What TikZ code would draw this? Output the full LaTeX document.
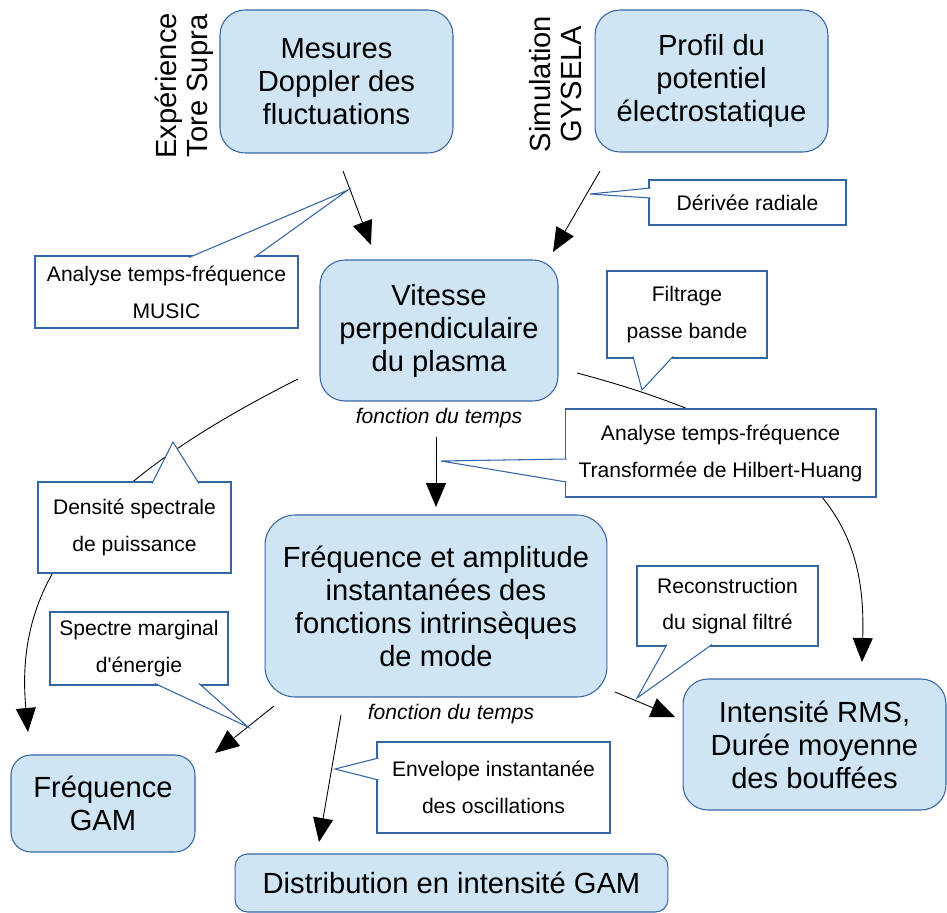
\documentclass[tikz,border=0pt]{standalone}
\usepackage{fontspec}
\setmainfont{Liberation Sans}
\usetikzlibrary{arrows.meta}
\definecolor{boxblue}{HTML}{CFE5F4}
\definecolor{lineblue}{HTML}{3465A4}

\begin{document}
\begin{tikzpicture}[x=0.02cm,y=-0.02cm,
  box/.style={draw=lineblue,fill=boxblue,line width=0.6pt,rounded corners=0.5cm,align=center,inner sep=0pt,font=\fontsize{16.6}{18.8}\selectfont},
  note/.style={draw=lineblue,fill=white,line width=0.6pt,align=center,inner sep=0pt,font=\fontsize{12}{21}\selectfont},
  tail/.style={draw=lineblue,fill=white,line width=0.6pt},
  arr/.style={-{Triangle[length=0.48cm,width=0.4cm]},line width=0.5pt},
  lbl/.style={font=\itshape\fontsize{12}{14}\selectfont},
  side/.style={rotate=90,align=center,font=\fontsize{16.6}{17.6}\selectfont}]
\useasboundingbox (0,0) rectangle (947,913);

% main boxes
\node[box,minimum width=4.66cm,minimum height=2.86cm] (mes) at (336.5,81.5) {Mesures\\Doppler des\\fluctuations};
\node[box,minimum width=4.66cm,minimum height=2.84cm] (prof) at (711.5,81) {Profil du\\potentiel\\électrostatique};
\node[box,minimum width=4.76cm,minimum height=2.82cm] (vit) at (439,330.5) {Vitesse\\perpendiculaire\\du plasma};
\node[box,rounded corners=0.6cm,minimum width=6.84cm,minimum height=3.64cm] (imf) at (436,606) {Fréquence et amplitude\\instantanées des\\fonctions intrinsèques\\de mode};
\node[box,minimum width=5.26cm,minimum height=2.62cm] (rms) at (814.5,744.5) {Intensité RMS,\\Durée moyenne\\des bouffées};
\node[box,rounded corners=0.4cm,minimum width=3.68cm,minimum height=1.94cm] (gam) at (103,803.5) {Fréquence\\GAM};
\node[box,rounded corners=0.25cm,minimum width=8.66cm,minimum height=1.16cm] (dist) at (451.5,883) {Distribution en intensité GAM};

\node[side] (exp) at (184,86) {Expérience\\Tore Supra};
\node[side] (sim) at (556,84) {Simulation\\GYSELA};
\node[lbl] (ft1) at (439,418) {fonction du temps};
\node[lbl] (ft2) at (451,714) {fonction du temps};

% connectors
\coordinate (mes1) at (343,171); \coordinate (vit1) at (371,245);
\coordinate (prof1) at (600,171); \coordinate (vit2) at (553,252);
\coordinate (vit3) at (436,437); \coordinate (imf1) at (436,507);
\coordinate (vit4) at (577,373); \coordinate (rms1) at (862,662);
\coordinate (vit5) at (298,379); \coordinate (gam1) at (28,732);
\coordinate (imf2) at (274,706); \coordinate (gam2) at (215,753);
\coordinate (imf3) at (341,715); \coordinate (dist1) at (319,842);
\coordinate (imf4) at (615,692); \coordinate (rms2) at (675,717);
\foreach \x/\y in {mes1/vit1,prof1/vit2,vit3/imf1,imf2/gam2,imf3/dist1,imf4/rms2}{\draw[arr] (\x)--(\y);}
\draw[arr] (vit4) .. controls (830,440) and (866,530) .. (rms1);
\draw[arr] (vit5) .. controls (73,492) and (15,590) .. (gam1);

% callouts
\node[note,minimum width=5.26cm,minimum height=1.44cm] (nmusic) at (166.5,292) {Analyse temps-fréquence\\MUSIC};
\node[note,minimum width=3.94cm,minimum height=0.9cm] (nderiv) at (747.5,202.5) {Dérivée radiale};
\node[note,minimum width=3.2cm,minimum height=1.74cm] (nfilt) at (687,314.5) {Filtrage\\passe bande};
\node[note,minimum width=6.22cm,minimum height=1.76cm] (nhht) at (720.5,453) {Analyse temps-fréquence\\Transformée de Hilbert-Huang};
\node[note,minimum width=3.86cm,minimum height=1.82cm] (ndsp) at (134.5,527.5) {Densité spectrale\\de puissance};
\node[note,minimum width=3.56cm,minimum height=1.46cm] (nspec) at (139,648.5) {Spectre marginal\\d\textquotesingle énergie};
\node[note,minimum width=3.62cm,minimum height=1.6cm] (nreco) at (727.5,606) {Reconstruction\\du signal filtré};
\node[note,minimum width=4.66cm,minimum height=1.82cm] (nenv) at (493.5,787.5) {Envelope instantanée\\des oscillations};

% pointers of the callouts
\filldraw[tail] (189,257.5) -- (348,190) -- (254,257.5);
\filldraw[tail] (650.5,188) -- (590,194) -- (650.5,198);
\filldraw[tail] (633,356.5) -- (642,390) -- (673,356.5);
\filldraw[tail] (566.5,459) -- (441,461) -- (566.5,482);
\filldraw[tail] (152,483.5) -- (173,442) -- (199,483.5);
\filldraw[tail] (155,683.5) -- (248,727) -- (199,683.5);
\filldraw[tail] (667,644.5) -- (637,698) -- (712,644.5);
\filldraw[tail] (378.5,758) -- (335,769) -- (378.5,780);
\end{tikzpicture}
\end{document}
